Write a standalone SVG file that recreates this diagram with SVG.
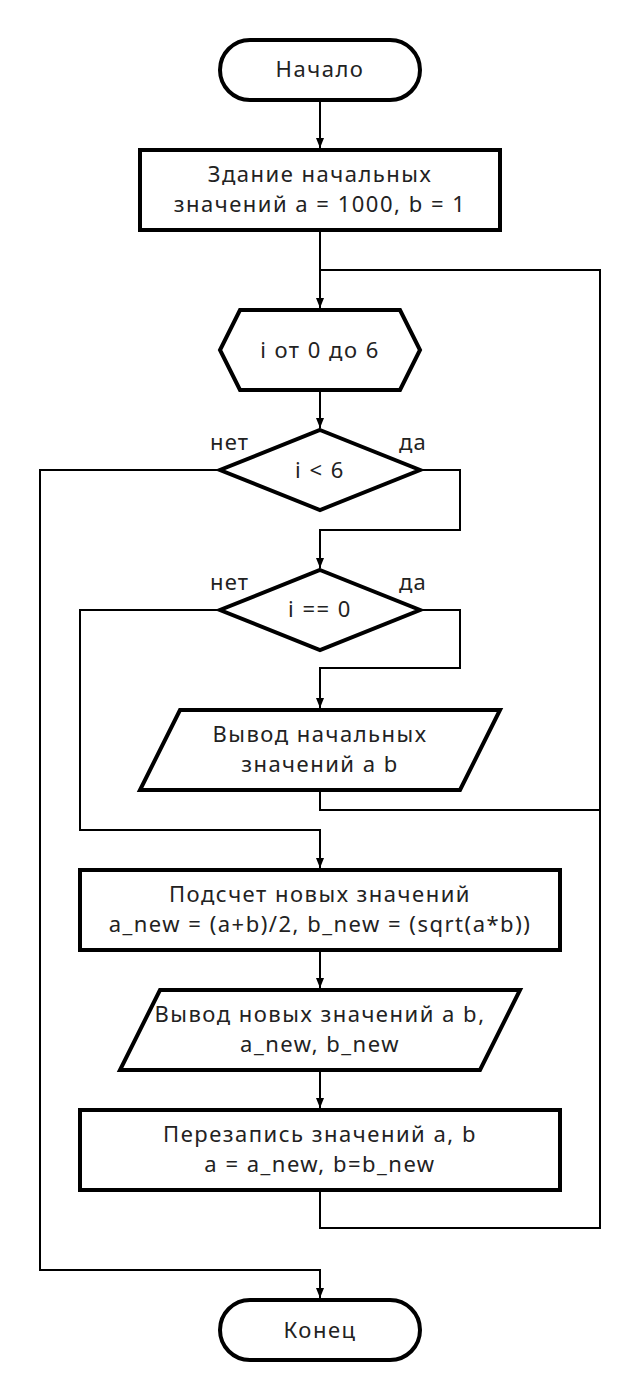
<svg xmlns="http://www.w3.org/2000/svg" width="640" height="1400" viewBox="0 0 640 1400">
<defs>
<marker id="arr" viewBox="0 0 10 10" refX="10" refY="5" markerWidth="10" markerHeight="10" markerUnits="userSpaceOnUse" orient="auto">
<path d="M0,1 L10,5 L0,9 Z" fill="#000"/>
</marker>
<style>
.s{fill:#fff;stroke:#000;stroke-width:4;stroke-linejoin:miter}
.c{fill:none;stroke:#000;stroke-width:2}
.t{font-family:"Noto Sans","Open Sans",sans-serif;font-size:22px;letter-spacing:1.5px;fill:#222;text-anchor:middle}
.l{font-family:"Noto Sans","Open Sans",sans-serif;font-size:22px;letter-spacing:1.2px;fill:#222}
</style>
</defs>
<rect width="640" height="1400" fill="#fff"/>
<g id="connectors">
<path class="c" d="M320,100 V148" marker-end="url(#arr)"/>
<path class="c" d="M320,230 V308" marker-end="url(#arr)"/>
<path class="c" d="M320,390 V428" marker-end="url(#arr)"/>
<path class="c" d="M420,470 H460 V530 H320 V568" marker-end="url(#arr)"/>
<path class="c" d="M220,470 H40 V1270 H320 V1298" marker-end="url(#arr)"/>
<path class="c" d="M420,610 H460 V668 H320 V708" marker-end="url(#arr)"/>
<path class="c" d="M220,610 H80 V830 H320 V868" marker-end="url(#arr)"/>
<path class="c" d="M320,790 V810 H600"/>
<path class="c" d="M320,950 V988" marker-end="url(#arr)"/>
<path class="c" d="M320,1070 V1108" marker-end="url(#arr)"/>
<path class="c" d="M320,1190 V1228 H600 V270 H320"/>
<text class="l" x="210" y="450">нет</text>
<text class="l" x="399" y="450">да</text>
<text class="l" x="210" y="590">нет</text>
<text class="l" x="399" y="590">да</text>
</g>
<g id="start">
<rect class="s" x="220" y="40" width="200" height="60" rx="30"/>
<text class="t" x="320" y="77">Начало</text>
</g>
<g id="init">
<rect class="s" x="140" y="150" width="360" height="80"/>
<text class="t" x="320" y="182">Здание начальных</text>
<text class="t" x="320" y="212">значений a = 1000, b = 1</text>
</g>
<g id="loop">
<polygon class="s" points="240,310 400,310 420,350 400,390 240,390 220,350"/>
<text class="t" x="320" y="358">i от 0 до 6</text>
</g>
<g id="cond1">
<polygon class="s" points="320,430 420,470 320,510 220,470"/>
<text class="t" x="320" y="478">i &lt; 6</text>
</g>
<g id="cond2">
<polygon class="s" points="320,570 420,610 320,650 220,610"/>
<text class="t" x="320" y="617">i == 0</text>
</g>
<g id="out1">
<polygon class="s" points="180,710 500,710 460,790 140,790"/>
<text class="t" x="320" y="742">Вывод начальных</text>
<text class="t" x="320" y="772">значений a b</text>
</g>
<g id="calc">
<rect class="s" x="80" y="870" width="480" height="80"/>
<text class="t" x="320" y="902">Подсчет новых значений</text>
<text class="t" x="320" y="932">a_new = (a+b)/2, b_new = (sqrt(a*b))</text>
</g>
<g id="out2">
<polygon class="s" points="160,990 520,990 480,1070 120,1070"/>
<text class="t" x="320" y="1022">Вывод новых значений a b,</text>
<text class="t" x="320" y="1052">a_new, b_new</text>
</g>
<g id="assign">
<rect class="s" x="80" y="1110" width="480" height="80"/>
<text class="t" x="320" y="1142">Перезапись значений a, b</text>
<text class="t" x="320" y="1172">a = a_new, b=b_new</text>
</g>
<g id="end">
<rect class="s" x="220" y="1300" width="200" height="60" rx="30"/>
<text class="t" x="320" y="1338">Конец</text>
</g>
</svg>
